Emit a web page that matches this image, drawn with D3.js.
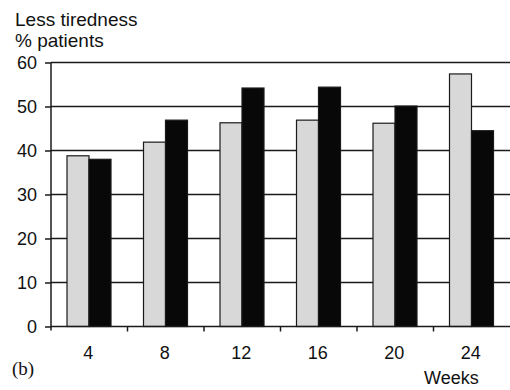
<!DOCTYPE html>
<html>
<head>
<meta charset="utf-8">
<script src="https://cdn.jsdelivr.net/npm/d3@7"></script>
<style>
  html, body { margin: 0; padding: 0; background: #fff; }
  svg { display: block; }
  text { font-family: "Liberation Sans", Arial, sans-serif; fill: #111; }
</style>
</head>
<body>
<svg id="chart" width="510" height="390"></svg>
<script>
// Weeks of treatment and the share of patients reporting less tiredness
const weeks = ["4", "8", "12", "16", "20", "24"];
const seriesNames = ["grey", "black"];
const greyValues = [38.8, 41.9, 46.3, 46.9, 46.2, 57.4];
const blackValues = [38.0, 46.9, 54.2, 54.4, 50.1, 44.5];
const yTicks = [0, 10, 20, 30, 40, 50, 60];

const svg = d3.select("#chart");
const plotLeft = 51, plotRight = 510, plotTop = 62.5, plotBottom = 326.5;

const x = d3.scaleBand().domain(weeks).range([plotLeft, plotRight]).padding(0);
const xs = d3.scaleBand().domain(seriesNames).range([16, 60]).padding(0);
const y = d3.scaleLinear().domain([0, 60]).range([plotBottom, plotTop]);

const fills = { grey: "#d8d8d8", black: "#080808" };

// horizontal gridlines (behind the bars)
svg.append("g").selectAll("line").data(yTicks.filter(d => d > 0)).join("line")
  .attr("x1", plotLeft).attr("x2", plotRight)
  .attr("y1", d => y(d)).attr("y2", d => y(d))
  .attr("stroke", "#1a1a1a").attr("stroke-width", 1.5);

// bars
const rows = weeks.map((w, i) => ({ week: w, grey: greyValues[i], black: blackValues[i] }));
const groups = svg.append("g").selectAll("g").data(rows).join("g")
  .attr("transform", d => `translate(${x(d.week)},0)`);
groups.selectAll("rect")
  .data(d => seriesNames.map(s => ({ s, v: d[s] })))
  .join("rect")
  .attr("x", d => xs(d.s))
  .attr("width", xs.bandwidth())
  .attr("y", d => y(d.v))
  .attr("height", d => y(0) - y(d.v))
  .attr("fill", d => fills[d.s])
  .attr("stroke", "#1a1a1a")
  .attr("stroke-width", 1.2);

// y axis
const yAxis = d3.axisLeft(y).tickValues(yTicks).tickSize(6).tickPadding(8);
const gy = svg.append("g").attr("transform", `translate(${plotLeft},0)`).call(yAxis);
gy.select(".domain").attr("stroke", "#1a1a1a").attr("stroke-width", 1.5)
  .attr("d", `M0,${plotTop}V${plotBottom + 4}`);
gy.selectAll(".tick line").attr("stroke", "#1a1a1a").attr("stroke-width", 1.5);
gy.selectAll(".tick text").attr("font-size", 18).attr("fill", "#111")
  .attr("font-family", "Liberation Sans, Arial, sans-serif");

// x axis: ticks sit at the boundaries between week groups
const boundaries = weeks.slice(1).map(w => x(w));
const gx = svg.append("g");
gx.append("line").attr("x1", plotLeft).attr("x2", plotRight)
  .attr("y1", plotBottom).attr("y2", plotBottom)
  .attr("stroke", "#1a1a1a").attr("stroke-width", 1.5);
gx.selectAll("line.tk").data(boundaries).join("line").attr("class", "tk")
  .attr("x1", d => d).attr("x2", d => d)
  .attr("y1", plotBottom).attr("y2", plotBottom + 5)
  .attr("stroke", "#1a1a1a").attr("stroke-width", 1.5);
gx.selectAll("text").data(weeks).join("text")
  .attr("x", d => x(d) + x.bandwidth() / 2 - 1)
  .attr("y", 359)
  .attr("text-anchor", "middle")
  .attr("font-size", 18)
  .text(d => d);

// titles
svg.append("text").attr("x", 15).attr("y", 26).attr("font-size", 19).text("Less tiredness");
svg.append("text").attr("x", 15).attr("y", 47).attr("font-size", 19).text("% patients");
svg.append("text").attr("x", 424).attr("y", 384).attr("font-size", 18).text("Weeks");
svg.append("text").attr("x", 12).attr("y", 375).attr("font-size", 19)
  .style("font-family", "'Liberation Serif', 'Times New Roman', serif").text("(b)");
</script>
</body>
</html>
